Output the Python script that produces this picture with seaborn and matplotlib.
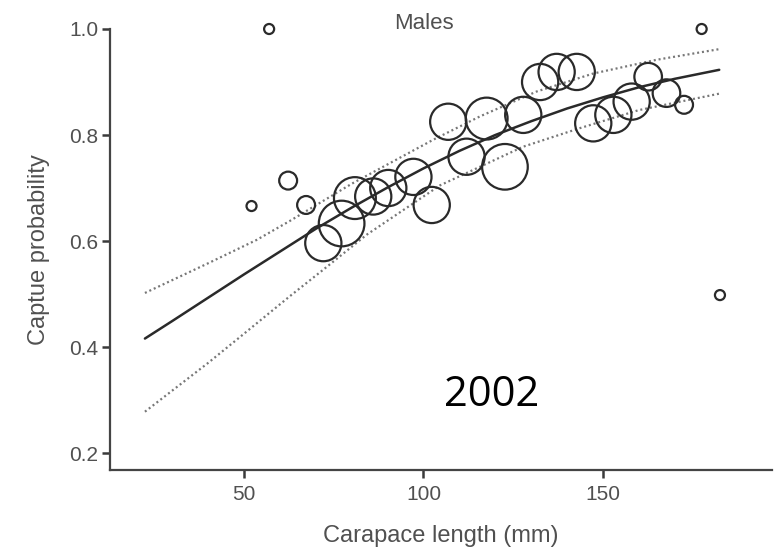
import matplotlib
matplotlib.use("Agg")
import matplotlib.pyplot as plt
import seaborn as sns
import pandas as pd

# ---- data ----
carapace = [57.0, 52.1, 62.3, 67.3, 72.1, 77.2, 80.9, 86.0, 90.2, 97.2, 102.3,
            106.9, 112.0, 117.6, 122.7, 127.8, 132.5, 137.1, 142.7, 147.3,
            152.9, 158.0, 162.6, 167.7, 172.6, 177.5, 182.6]
capture = [1.0, 0.666, 0.714, 0.668, 0.596, 0.633, 0.681, 0.684, 0.700, 0.721, 0.668,
           0.825, 0.759, 0.831, 0.740, 0.838, 0.900, 0.919, 0.919, 0.822,
           0.838, 0.863, 0.910, 0.879, 0.857, 1.0, 0.498]
n_obs = [1, 1, 3, 3, 12, 19, 16, 12, 12, 12, 12,
         12, 12, 16, 19, 12, 12, 12, 12, 12,
         12, 12, 7, 7, 3, 1, 1]

fit_x = [22.4, 30, 40, 50, 60, 70, 80, 90, 100, 110, 120, 130, 140, 150, 160, 170, 182.4]
fit_y = [0.416, 0.449, 0.493, 0.537, 0.580, 0.623, 0.663, 0.701, 0.737, 0.770,
         0.800, 0.826, 0.850, 0.871, 0.890, 0.906, 0.923]

upper_x = [22.4, 40, 53.5, 62.8, 80, 102.7, 115.7, 131.5, 147.3, 165, 182.4]
upper_y = [0.502, 0.558, 0.602, 0.638, 0.708, 0.791, 0.835, 0.882, 0.916, 0.942, 0.962]

lower_x = [22.4, 40, 48.9, 62.8, 72.1, 84.2, 104.6, 127.8, 143.6, 160, 182.4]
lower_y = [0.278, 0.370, 0.419, 0.496, 0.546, 0.612, 0.705, 0.778, 0.813, 0.847, 0.878]

x_ticks = [50, 100, 150]
y_ticks = [0.2, 0.4, 0.6, 0.8, 1.0]

df = pd.DataFrame({"carapace": carapace, "capture": capture, "n": n_obs})

sns.set_style("ticks")
plt.rcParams["font.family"] = ["Liberation Sans", "DejaVu Sans"]

W, H = 784, 551
fig = plt.figure(figsize=(W / 100, H / 100), dpi=100)
left_px, right_px, top_px, bottom_px = 110, 772, 29, 470
ax = fig.add_axes([left_px / W, 1 - bottom_px / H,
                   (right_px - left_px) / W, (bottom_px - top_px) / H])

ink = "#2a2a2a"
txt = "#505050"

sns.lineplot(x=fit_x, y=fit_y, ax=ax, color=ink, linewidth=1.8, sort=False)
sns.lineplot(x=upper_x, y=upper_y, ax=ax, color="#777777", linewidth=1.6,
             linestyle=(0, (0.9, 1.3)), sort=False)
sns.lineplot(x=lower_x, y=lower_y, ax=ax, color="#777777", linewidth=1.6,
             linestyle=(0, (0.9, 1.3)), sort=False)

sns.scatterplot(data=df, x="carapace", y="capture", size="n",
                sizes=(52, 1080), size_norm=(1, 19), legend=False, ax=ax,
                facecolor="none", edgecolor=ink, linewidth=1.6, clip_on=False,
                zorder=3)

ax.set_xlim(12.67, 197.1)
ax.set_ylim(0.168, 1.0)
ax.set_xticks(x_ticks)
ax.set_xticklabels([str(v) for v in x_ticks])
ax.set_yticks(y_ticks)
ax.set_yticklabels([f"{v:.1f}" for v in y_ticks])

for s in ["top", "right"]:
    ax.spines[s].set_visible(False)
for s in ["left", "bottom"]:
    ax.spines[s].set_color("#444444")
    ax.spines[s].set_linewidth(1.6)

ax.tick_params(axis="both", which="major", direction="out", length=6, width=1.8,
               color="#3a3a3a", labelsize=15, labelcolor=txt,
               bottom=True, left=True, top=False, right=False)
ax.tick_params(axis="x", pad=5)
ax.tick_params(axis="y", pad=2.5)

ax.set_xlabel("Carapace length (mm)", fontsize=17, color=txt, labelpad=15)
ax.set_ylabel("Captue probability", fontsize=17, color=txt, labelpad=14)

ax.text(100, 1.0 + 5 / 530, "Males", fontsize=16, color=txt,
        ha="center", va="center", clip_on=False)

ax.text(492 / W, 1 - 395 / H, "2002", transform=fig.transFigure,
        fontsize=30, color="black", ha="center", va="center",
        family=["Open Sans", "DejaVu Sans"])

fig.savefig("out.png", dpi=100, facecolor="white")
